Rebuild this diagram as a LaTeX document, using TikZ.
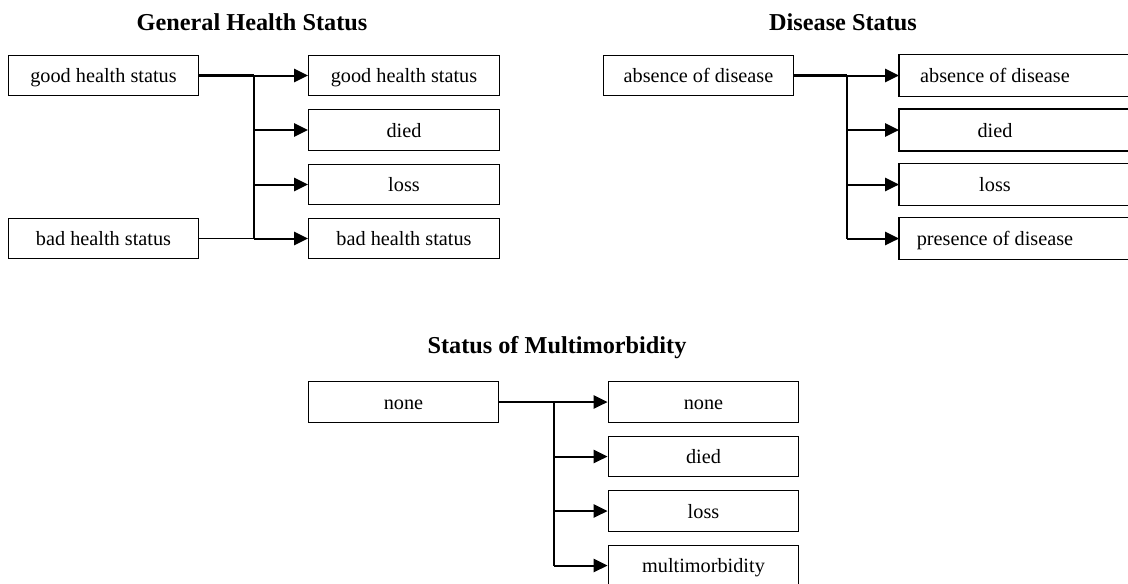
\documentclass[tikz,border=0pt]{standalone}
\usepackage{fontspec}
\setmainfont{Liberation Serif}
\usepackage{tikz}
\usetikzlibrary{arrows.meta}

\tikzset{
  state/.style={draw, line width=0.9pt, minimum width=143pt, minimum height=30.5pt,
    inner sep=0pt, text height=11pt, text depth=0pt, font=\fontsize{15.2}{18}\selectfont},
  openstate/.style={state, draw=none},
  heading/.style={font=\fontsize{18.2}{22}\selectfont\bfseries},
  trunk/.style={line width=1.5pt},
  feed/.style={line width=2pt},
  thinfeed/.style={line width=1.4pt},
  arr/.style={line width=1.5pt, -{Triangle[length=10.5pt,width=10pt]}}
}

\begin{document}
\begin{tikzpicture}[x=0.75pt, y=-0.75pt]
  \useasboundingbox (0,0) rectangle (1128,583);

  \newcommand{\outarrow}[2]{
    \draw[arr] (#1 |- #2.west) -- (#2.west);
  };

  % General Health Status
  \node[heading] (t1) at (252,22) {General Health Status};
  \node[state] (g1) at (103.5,75.5) {good health status};
  \node[state] (b1) at (103.5,238.5) {bad health status};
  \node[state] (r11) at (404,75.5) {good health status};
  \node[state] (r12) at (404,130) {died};
  \node[state] (r13) at (404,184.5) {loss};
  \node[state] (r14) at (404,238.5) {bad health status};
  \coordinate (bar1) at (254,75.5);

  \draw[feed] (g1.east) -- (bar1);
  \draw[thinfeed] (b1.east) -- (bar1 |- b1.east);
  \draw[trunk] (bar1) -- (bar1 |- r14.west);
  \outarrow{bar1}{r11};
  \outarrow{bar1}{r12};
  \outarrow{bar1}{r13};
  \outarrow{bar1}{r14};

  % Disease Status
  \node[heading] (t2) at (843,22) {Disease Status};
  \node[state] (a2) at (698.5,75.5) {absence of disease};
  \node[openstate] (r21) at (995,75.5) {absence of disease};
  \node[openstate] (r22) at (995,130) {died};
  \node[openstate] (r23) at (995,184.5) {loss};
  \node[openstate] (r24) at (995,238.5) {presence of disease};
  \coordinate (bar2) at (847,75.5);
  \coordinate (rim) at (1132,0);

  \foreach \n in {r21,r22,r23,r24}
    \draw[line width=0.9pt] (rim |- \n.north) -- (\n.north west) -- (\n.south west) -- (rim |- \n.south);

  \draw[feed] (a2.east) -- (bar2);
  \draw[trunk] (bar2) -- (bar2 |- r24.west);
  \outarrow{bar2}{r21};
  \outarrow{bar2}{r22};
  \outarrow{bar2}{r23};
  \outarrow{bar2}{r24};

  % Status of Multimorbidity
  \node[heading] (t3) at (557,348) {Status of Multimorbidity};
  \node[state] (n3) at (403.5,402) {none};
  \node[state] (r31) at (703.5,402) {none};
  \node[state] (r32) at (703.5,456.5) {died};
  \node[state] (r33) at (703.5,511) {loss};
  \node[state] (r34) at (703.5,565.5) {multimorbidity};
  \coordinate (bar3) at (554,402);

  \draw[feed] (n3.east) -- (bar3);
  \draw[trunk] (bar3) -- (bar3 |- r34.west);
  \outarrow{bar3}{r31};
  \outarrow{bar3}{r32};
  \outarrow{bar3}{r33};
  \outarrow{bar3}{r34};

\end{tikzpicture}
\end{document}
